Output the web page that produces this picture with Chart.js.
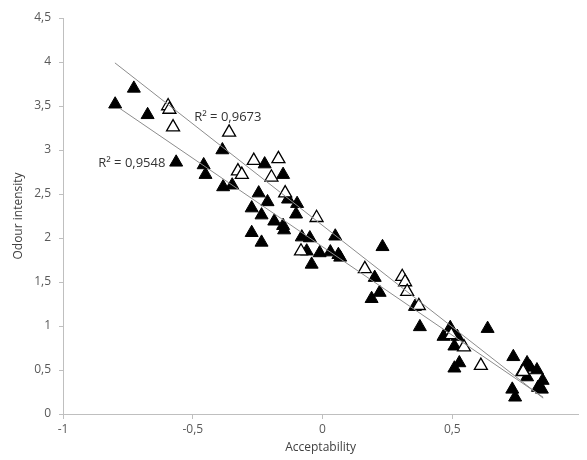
<!DOCTYPE html>
<html lang="en">
<head>
<meta charset="UTF-8">
<title>Odour intensity vs acceptability</title>
<script src="https://cdn.jsdelivr.net/npm/chart.js"></script>
<style>
    html, body { margin: 0; padding: 0; background: #fff; overflow: hidden; }
    #wrap { position: relative; width: 587px; height: 460px; }
</style>
</head>
<body>
<div id="wrap"><canvas id="odourChart"></canvas></div>
<script>
    // filled triangles
    const filledX = [-0.799, -0.727, -0.674, -0.564, -0.458, -0.451, -0.386, -0.383, -0.348, -0.223,
        -0.152, -0.246, -0.212, -0.273, -0.235, -0.186, -0.152, -0.148, -0.133, -0.098,
        -0.102, -0.273, -0.235, -0.080, -0.049, -0.061, -0.011, 0.030, 0.061, 0.068,
        -0.042, 0.049, 0.231, 0.201, 0.220, 0.189, 0.356, 0.375, 0.492, 0.466,
        0.519, 0.508, 0.527, 0.508, 0.636, 0.735, 0.788, 0.769, 0.788, 0.826,
        0.848, 0.830, 0.845, 0.731, 0.742, 0.800];
    const filledY = [3.52, 3.70, 3.40, 2.86, 2.83, 2.72, 3.00, 2.58, 2.60, 2.84,
        2.72, 2.51, 2.41, 2.34, 2.26, 2.19, 2.14, 2.09, 2.44, 2.39,
        2.27, 2.06, 1.95, 2.01, 2.00, 1.85, 1.83, 1.84, 1.81, 1.78,
        1.70, 2.02, 1.90, 1.55, 1.38, 1.31, 1.22, 0.99, 0.98, 0.88,
        0.88, 0.77, 0.58, 0.52, 0.97, 0.65, 0.58, 0.48, 0.42, 0.50,
        0.38, 0.30, 0.28, 0.28, 0.19, 0.53];

    // open triangles
    const openX = [-0.595, -0.590, -0.576, -0.360, -0.265, -0.170, -0.326, -0.311, -0.197, -0.144,
        -0.023, -0.083, 0.163, 0.307, 0.318, 0.326, 0.371, 0.496, 0.545, 0.610, 0.773];
    const openY = [3.50, 3.46, 3.26, 3.20, 2.88, 2.90, 2.76, 2.72, 2.69, 2.51,
        2.23, 1.85, 1.65, 1.56, 1.50, 1.39, 1.23, 0.90, 0.76, 0.55, 0.48];

    // trend lines (end points)
    const trendOpenX = [-0.80, 0.85];
    const trendOpenY = [3.99, 0.18];
    const trendFilledX = [-0.78, 0.85];
    const trendFilledY = [3.47, 0.19];

    // R² labels
    const r2Texts = ['R² = 0,9673', 'R² = 0,9548'];
    const r2X = [-0.365, -0.735];
    const r2Y = [3.37, 2.85];

    const yTicks = [0, 0.5, 1, 1.5, 2, 2.5, 3, 3.5, 4, 4.5];
    const xTicks = [-1, -0.5, 0, 0.5];

    const pts = (xs, ys) => xs.map((x, i) => ({ x: x, y: ys[i] }));
    const fmt = v => String(v).replace('.', ',');

    const r2Plugin = {
        id: 'r2Labels',
        afterDatasetsDraw(chart) {
            const ctx = chart.ctx;
            const sx = chart.scales.x, sy = chart.scales.y;
            ctx.save();
            ctx.font = '13px "Open Sans"';
            ctx.fillStyle = '#333';
            ctx.textAlign = 'center';
            ctx.textBaseline = 'middle';
            r2Texts.forEach((t, i) => {
                ctx.fillText(t, sx.getPixelForValue(r2X[i]), sy.getPixelForValue(r2Y[i]));
            });
            ctx.restore();
        }
    };

    const axisColor = '#bfbfbf';
    const tickFont = { family: 'Open Sans', size: 12 };

    new Chart(document.getElementById('odourChart'), {
        type: 'scatter',
        data: {
            datasets: [
                {
                    label: 'trend open',
                    type: 'line',
                    data: pts(trendOpenX, trendOpenY),
                    borderColor: '#8c8c8c',
                    borderWidth: 1,
                    pointRadius: 0,
                    fill: false,
                    order: 0
                },
                {
                    label: 'trend filled',
                    type: 'line',
                    data: pts(trendFilledX, trendFilledY),
                    borderColor: '#8c8c8c',
                    borderWidth: 1,
                    pointRadius: 0,
                    fill: false,
                    order: 0
                },
                {
                    label: 'filled',
                    data: pts(filledX, filledY),
                    pointStyle: 'triangle',
                    pointRadius: 7.5,
                    backgroundColor: '#000',
                    borderColor: '#000',
                    borderWidth: 1,
                    order: 2
                },
                {
                    label: 'open',
                    data: pts(openX, openY),
                    pointStyle: 'triangle',
                    pointRadius: 7.5,
                    backgroundColor: '#fff',
                    borderColor: '#000',
                    borderWidth: 1.3,
                    order: 1
                }
            ]
        },
        options: {
            responsive: true,
            maintainAspectRatio: false,
            animation: false,
            layout: { padding: { top: 18, right: 0, left: 0, bottom: 0 } },
            plugins: {
                legend: { display: false },
                tooltip: { enabled: false }
            },
            scales: {
                x: {
                    type: 'linear',
                    min: -1,
                    max: 0.985,
                    afterBuildTicks: s => { s.ticks = xTicks.map(v => ({ value: v })); },
                    afterFit: s => { s.height = 46; },
                    grid: { drawOnChartArea: false, drawTicks: true, tickLength: 5, color: axisColor },
                    border: { color: axisColor },
                    ticks: { color: '#595959', font: tickFont, padding: 3, maxRotation: 0, callback: v => fmt(v) },
                    title: { display: true, text: 'Acceptability', color: '#404040', font: tickFont, padding: { top: 2, bottom: 5 } }
                },
                y: {
                    min: 0,
                    max: 4.5,
                    afterBuildTicks: s => { s.ticks = yTicks.map(v => ({ value: v })); },
                    afterFit: s => { s.width = 63; },
                    grid: { drawOnChartArea: false, drawTicks: true, tickLength: 4, color: axisColor },
                    border: { color: axisColor },
                    ticks: { color: '#595959', font: tickFont, padding: 8, callback: v => fmt(v) },
                    title: { display: true, text: 'Odour intensity', color: '#404040', font: tickFont, padding: { top: 11, bottom: 0 } }
                }
            }
        },
        plugins: [r2Plugin]
    });
</script>
</body>
</html>
